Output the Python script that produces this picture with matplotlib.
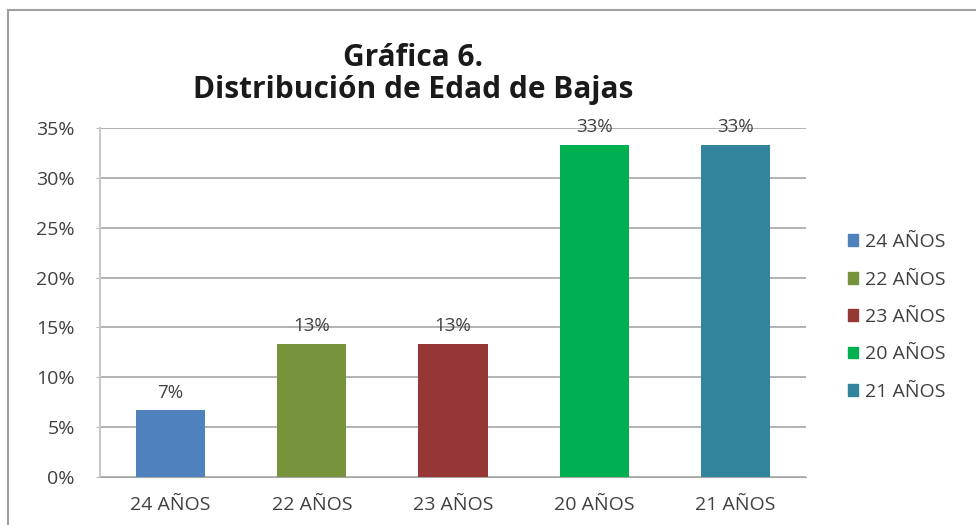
import matplotlib
matplotlib.use("Agg")
import matplotlib.pyplot as plt
from matplotlib.patches import Rectangle
from matplotlib.ticker import FuncFormatter

categories = ["24 AÑOS", "22 AÑOS", "23 AÑOS", "20 AÑOS", "21 AÑOS"]
values = [6.67, 13.33, 13.33, 33.33, 33.33]
labels = ["7%", "13%", "13%", "33%", "33%"]
colors = ["#4F81BD", "#77933C", "#953735", "#00B050", "#31849B"]
yticks = [0, 5, 10, 15, 20, 25, 30, 35]

plt.rcParams['font.family'] = ['Open Sans', 'DejaVu Sans']

fig = plt.figure(figsize=(9.76, 5.25), dpi=100)
fig.patch.set_facecolor("white")
ax = fig.add_axes([100/976, 48/525, 706/976, 349/525])

x = list(range(len(categories)))
ax.bar(x, values, width=0.49, color=colors, label=categories, zorder=3)
for xi, v, lab in zip(x, values, labels):
    ax.text(xi, v + 0.9, lab, ha="center", va="bottom", fontsize=13.5, color="#404040")

ax.set_xlim(-0.5, len(categories) - 0.5)
ax.set_ylim(0, 35)
ax.set_yticks(yticks)
ax.yaxis.set_major_formatter(FuncFormatter(lambda v, p: f"{int(v)}%"))
ax.set_xticks(x)
ax.set_xticklabels(categories)
ax.tick_params(axis="both", labelsize=14, labelcolor="#404040")
ax.tick_params(axis="x", length=0, pad=14)
ax.tick_params(axis="y", length=3, color="#BFBFBF", pad=15)
ax.grid(axis="y", color="#A6A6A6", linewidth=1.2, zorder=0)
for s in ["top", "right"]:
    ax.spines[s].set_visible(False)
ax.spines["bottom"].set_color("#A6A6A6")
ax.spines["left"].set_color("#C8C8C8")
ax.spines["left"].set_linewidth(1.5)

handles = [Rectangle((0, 0), 1, 1, color=c) for c in colors]
fig.legend(handles, categories, loc="center left", bbox_to_anchor=(830/976, (525 - 317)/525),
           frameon=False, fontsize=14, handlelength=0.55, handleheight=0.55,
           handletextpad=0.35, labelspacing=1.0, labelcolor="#404040")

fig.text(413/976, (525 - 74)/525, "Gráfica 6.\nDistribución de Edad de Bajas", ha="center", va="center",
         fontsize=21.5, fontweight="bold", color="#1a1a1a", linespacing=1.1)

fig.add_artist(Rectangle((8/976, -0.01), 1.1, (515/525) + 0.01, transform=fig.transFigure,
                         fill=False, edgecolor="#A0A0A0", linewidth=1.5))

fig.savefig("out.png", dpi=100)
